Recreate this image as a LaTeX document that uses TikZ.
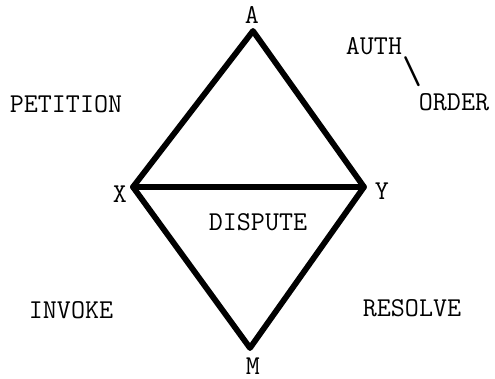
\documentclass[tikz,border=0pt]{standalone}
\usetikzlibrary{positioning}

\begin{document}
\begin{tikzpicture}[
  x=0.2mm, y=-0.2mm,
  every node/.style={font=\ttfamily\fontsize{15.5}{17}\selectfont, inner sep=1pt},
  edge/.style={line width=3.3pt, line join=round, line cap=round},
  lbl/.style={anchor=center},
]
  \useasboundingbox (0,0) rectangle (495,379);

  % vertices of the diamond
  \coordinate (a) at (253,31);
  \coordinate (x) at (133,187);
  \coordinate (y) at (364,187);
  \coordinate (m) at (250,348);

  \node[lbl] (la) at (252,15)  {A};
  \node[lbl] (lx) at (120,194) {X};
  \node[lbl] (ly) at (382,191) {Y};
  \node[lbl] (lm) at (253,366) {M};

  \node[lbl] (dispute) at (258,222) {DISPUTE};
  \node[lbl] (petition) at (66,104) {PETITION};
  \node[lbl] (auth) at (374,46) {AUTH};
  \node[lbl, font=\ttfamily\fontsize{22}{24}\selectfont] (slash) at (412,72) {\textbackslash};
  \node[lbl] (order) at (454,102) {ORDER};
  \node[lbl] (invoke) at (71,310) {INVOKE};
  \node[lbl] (resolve) at (412,308) {RESOLVE};

  \draw[edge] (a) -- (x) -- (m) -- (y) -- cycle;
  \draw[edge] (x) -- (y);
\end{tikzpicture}
\end{document}
